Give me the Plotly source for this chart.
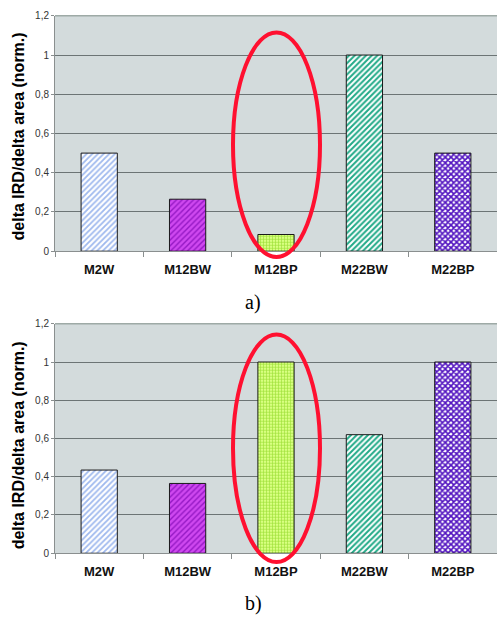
import plotly.graph_objects as go

# Samples and normalised values for the two measurement series
samples = ["M2W", "M12BW", "M12BP", "M22BW", "M22BP"]
values_a = [0.50, 0.265, 0.085, 1.00, 0.50]
values_b = [0.435, 0.365, 1.00, 0.62, 1.00]

tick_vals = [0, 0.2, 0.4, 0.6, 0.8, 1.0, 1.2]
tick_text = ["0", "0,2", "0,4", "0,6", "0,8", "1", "1,2"]

# Fill pattern per sample: (shape, foreground, background, spacing, solidity)
patterns = [
    ("/", "#9fb9ee", "#ffffff", 4, 0.45),
    ("/", "#9418c4", "#cf48f0", 4, 0.35),
    ("+", "#99dd33", "#d8ff80", 3, 0.35),
    ("/", "#22aa88", "#ffffff", 4, 0.5),
    ("x", "#5214c0", "#ffffff", 4, 0.65),
]

W, H = 497, 623
PLOT_LEFT = 55


def py(px):
    """Convert a pixel row (from top) to a paper y coordinate."""
    return 1 - px / H


fig = go.Figure()

for vals, xa, ya in [(values_a, "x", "y"), (values_b, "x2", "y2")]:
    for i, name in enumerate(samples):
        shape, fg, bg, size, sol = patterns[i]
        fig.add_trace(go.Bar(
            x=[name], y=[vals[i]], xaxis=xa, yaxis=ya,
            width=0.41,
            marker=dict(
                color=bg,
                line=dict(color="#1a1a1a", width=1),
                pattern=dict(shape=shape, fgcolor=fg, bgcolor=bg,
                             size=size, solidity=sol, fillmode="replace"),
            ),
            showlegend=False,
            hoverinfo="skip",
        ))

x_dom = [PLOT_LEFT / W, 1.0]
dom_a = [py(250), py(10)]
dom_b = [py(558), py(324)]

axis_font = dict(family="Liberation Sans, Arial", size=10, color="#333333")
cat_font = dict(family="Liberation Sans, Arial", size=13, color="#111111",
                weight="bold")

common_x = dict(
    domain=x_dom, type="category", categoryorder="array",
    categoryarray=samples, showline=True, linecolor="#8a8f8f",
    linewidth=1, ticks="outside", tickson="boundaries", ticklen=5,
    tickcolor="#8a8f8f", tickfont=cat_font, showgrid=False,
    ticklabelstandoff=6, fixedrange=True,
)
common_y = dict(
    range=[0, 1.2], tickvals=tick_vals, ticktext=tick_text,
    showgrid=True, gridcolor="#6c7475", gridwidth=1.2,
    showline=True, linecolor="#8a8f8f", linewidth=1,
    ticks="outside", ticklen=3, tickcolor="#8a8f8f",
    tickfont=axis_font, zeroline=False, fixedrange=True,
)

fig.update_layout(
    width=W, height=H, autosize=False,
    margin=dict(l=0, r=0, t=0, b=0),
    paper_bgcolor="#ffffff", plot_bgcolor="#d3dbdc",
    barmode="overlay",
    xaxis=dict(anchor="y", **common_x),
    yaxis=dict(anchor="x", domain=dom_a, **common_y),
    xaxis2=dict(anchor="y2", **common_x),
    yaxis2=dict(anchor="x2", domain=dom_b, **common_y),
)

# Lighter frame line along the top of each panel
for top_px in (10, 324):
    fig.add_shape(type="line", xref="paper", yref="paper",
                  x0=PLOT_LEFT / W, x1=1, y0=py(top_px), y1=py(top_px),
                  line=dict(color="#9eaaa6", width=1.5), layer="above")

# Axis titles and panel letters
title_font = dict(family="Liberation Sans, Arial", size=16, color="#000000")
letter_font = dict(family="Liberation Serif, Times New Roman", size=20, color="#000000")
for cy in (133, 448):
    fig.add_annotation(
        text="<b>delta IRD/delta area (norm.)</b>", textangle=-90,
        xref="paper", yref="paper", x=18 / W, y=py(cy),
        xanchor="center", yanchor="middle", showarrow=False, font=title_font,
    )
for txt, cy in (("a)", 302), ("b)", 609)):
    fig.add_annotation(
        text=txt, xref="paper", yref="paper", x=253 / W, y=py(cy),
        xanchor="center", yanchor="middle", showarrow=False, font=letter_font,
    )

# Red ellipses highlighting the M12BP sample in each panel
for top_px, bot_px in ((27, 256), (335, 567)):
    fig.add_shape(
        type="circle", xref="paper", yref="paper",
        x0=233 / W, x1=320 / W, y0=py(bot_px), y1=py(top_px),
        line=dict(color="#ff1030", width=4), layer="above",
    )

fig.write_html("out.html")
